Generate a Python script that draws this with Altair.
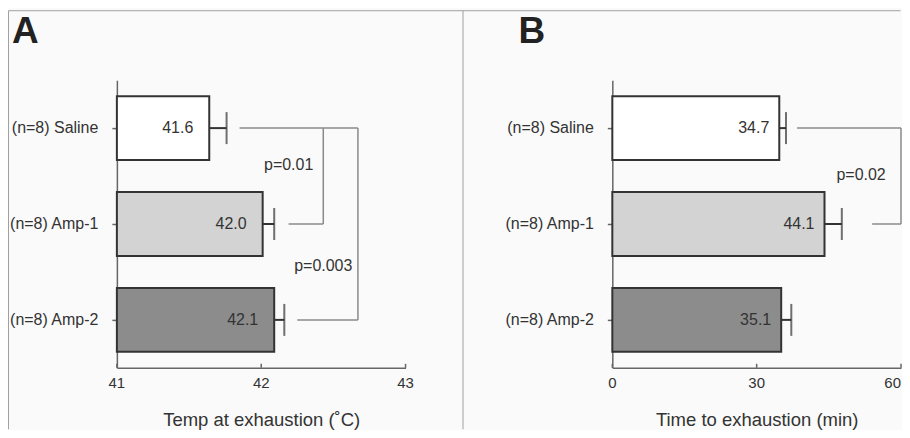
import altair as alt
import pandas as pd

FONT = "Liberation Sans"
TXT = "#333333"
AX = "#666666"
BR = "#8a8a8a"

groups = ["(n=8) Saline", "(n=8) Amp-1", "(n=8) Amp-2"]
fills = ["#ffffff", "#d3d3d3", "#8c8c8c"]

# Panel A: temperature at exhaustion (deg C)
temp_mean = [41.64, 42.01, 42.09]
temp_err = [41.76, 42.09, 42.16]
ticks_a = [41, 42, 43]
dom_a = [41, 43]

# Panel B: time to exhaustion (min)
time_mean = [34.7, 44.1, 35.1]
time_err = [36.1, 47.7, 37.2]
ticks_b = [0, 30, 60]
dom_b = [0, 60]

# significance brackets (segments)
br_a_x = [41.85, 42.43, 42.19, 42.67, 42.25]
br_a_x2 = [42.67, 42.43, 42.43, 42.67, 42.67]
br_a_y = [groups[0], groups[0], groups[1], groups[0], groups[2]]
br_a_y2 = [groups[0], groups[1], groups[1], groups[2], groups[2]]

br_b_x = [38.4, 60.0, 54.0]
br_b_x2 = [60.0, 60.0, 60.0]
br_b_y = [groups[0], groups[0], groups[1]]
br_b_y2 = [groups[0], groups[1], groups[1]]

# p-value labels: text, x position, row, offset below row centre
p_a_text = ["p=0.01", "p=0.003"]
p_a_x = [42.19, 42.43]
p_a_row = [groups[0], groups[1]]
p_a_dy = [37, 42]

p_b_text = ["p=0.02"]
p_b_x = [51.7]
p_b_row = [groups[0]]
p_b_dy = [47]


def panel(means, errs, dom, ticks, title, bx, bx2, by, by2, ptext, px, prow, pdy,
          letter, letter_x, value_dx, flush_last, frame=False):
    df = pd.DataFrame({"group": groups, "mean": means, "err": errs})
    xs = alt.Scale(domain=dom, nice=False, zero=False)
    ys = alt.Scale(domain=groups, paddingInner=1 / 3, paddingOuter=1 / 6)
    yax = alt.Axis(title=None, labelLimit=300)
    xax = alt.Axis(values=ticks, title=title, labels=False, ticks=False)
    base = alt.Chart(df)
    yN = alt.Y("group:N", scale=ys, axis=yax, sort=groups)
    bars = base.mark_bar(stroke="#333333", strokeWidth=2).encode(
        y=yN,
        x=alt.X("mean:Q", scale=xs, axis=xax),
        x2=alt.datum(dom[0]),
        fill=alt.Fill("group:N", scale=alt.Scale(domain=groups, range=fills), legend=None),
    )
    errline = base.mark_rule(color="#333333", strokeWidth=2).encode(
        y=yN, x=alt.X("mean:Q", scale=xs, axis=xax), x2="err:Q")
    cap = base.mark_tick(color="#333333", thickness=2, size=32).encode(
        y=yN, x=alt.X("err:Q", scale=xs, axis=xax))
    vals = base.mark_text(align="right", baseline="middle", dx=value_dx,
                          fontSize=16, color=TXT, font=FONT).encode(
        y=yN, x=alt.X("mean:Q", scale=xs, axis=xax),
        text=alt.Text("mean:Q", format=".1f"))
    tick_df = pd.DataFrame({"t": ticks})
    inticks = alt.Chart(tick_df).mark_rule(color=AX, strokeWidth=1.5).encode(
        x=alt.X("t:Q", scale=xs, axis=xax), y=alt.value(288), y2=alt.value(284))
    # tick labels drawn through the x scale
    if flush_last:
        lab_c = alt.Chart(pd.DataFrame({"t": ticks[:-1]}))
        lab_r = alt.Chart(pd.DataFrame({"t": ticks[-1:]}))
    else:
        lab_c = alt.Chart(tick_df)
        lab_r = None
    ticklabs = [lab_c.mark_text(align="center", baseline="alphabetic", fontSize=15,
                                color=TXT, font=FONT).encode(
        x=alt.X("t:Q", scale=xs, axis=xax), y=alt.value(308.5),
        text=alt.Text("t:Q", format="d"))]
    if lab_r is not None:
        ticklabs.append(lab_r.mark_text(align="right", baseline="alphabetic",
                                        fontSize=15, color=TXT, font=FONT).encode(
            x=alt.X("t:Q", scale=xs, axis=xax), y=alt.value(308.5),
            text=alt.Text("t:Q", format="d")))
    br_df = pd.DataFrame({"x": bx, "x2": bx2, "y": by, "y2": by2})
    brackets = alt.Chart(br_df).mark_rule(color=BR, strokeWidth=1.5).encode(
        x=alt.X("x:Q", scale=xs, axis=xax), x2="x2:Q",
        y=alt.Y("y:N", scale=ys, axis=yax, sort=groups), y2="y2:N")
    layers = [bars, errline, cap, vals, inticks, brackets] + ticklabs
    for t, x, r, d in zip(ptext, px, prow, pdy):
        pdf = pd.DataFrame({"label": [t], "x": [x], "group": [r]})
        layers.append(alt.Chart(pdf).mark_text(
            align="center", baseline="middle", dy=d, fontSize=16,
            color=TXT, font=FONT).encode(
            x=alt.X("x:Q", scale=xs, axis=xax), y=yN, text="label:N"))
    ldf = pd.DataFrame({"t": [letter]})
    layers.append(alt.Chart(ldf).mark_text(
        align="left", baseline="alphabetic", fontSize=37, fontWeight="bold",
        color="#222222", font=FONT).encode(
        x=alt.value(letter_x), y=alt.value(-37), text="t:N"))
    if frame:
        fdf = pd.DataFrame({"k": [0]})
        fc = "#a0a0a0"
        layers.append(alt.Chart(fdf).mark_rule(color=fc, strokeWidth=1).encode(
            x=alt.value(-108.5), x2=alt.value(784.5), y=alt.value(-69.5)))
        layers.append(alt.Chart(fdf).mark_rule(color=fc, strokeWidth=1).encode(
            x=alt.value(-108.5), y=alt.value(-69.5), y2=alt.value(349.5)))
        layers.append(alt.Chart(fdf).mark_rule(color=fc, strokeWidth=1).encode(
            x=alt.value(346.5), y=alt.value(-69.5), y2=alt.value(349.5)))
    return alt.layer(*layers).properties(width=289, height=288)


pa = panel(temp_mean, temp_err, dom_a, ticks_a, "Temp at exhaustion (\u02daC)",
           br_a_x, br_a_x2, br_a_y, br_a_y2, p_a_text, p_a_x, p_a_row, p_a_dy,
           "A", -105, -16, False, frame=True)
pb = panel(time_mean, time_err, dom_b, ticks_b, "Time to exhaustion (min)",
           br_b_x, br_b_x2, br_b_y, br_b_y2, p_b_text, p_b_x, p_b_row, p_b_dy,
           "B", -94, -10, True)

chart = alt.hconcat(pa, pb, spacing=207, bounds="flush").properties(
    padding={"left": 0, "top": 2, "right": 0, "bottom": 0},
    background="#fafafa",
).configure_view(stroke=None).configure_axis(
    labelFont=FONT, titleFont=FONT, labelColor=TXT, titleColor=TXT,
    domainColor=AX, domainWidth=1.5, tickColor=AX, tickWidth=1.5, grid=False,
).configure_axisY(
    labelFontSize=16, labelPadding=14, tickSize=5,
).configure_axisX(
    titleFontSize=18.5, titleFontWeight="normal", titleY=58,
    titleBaseline="alphabetic",
).configure_text(font=FONT)

chart.save("out.html", embed_options={"renderer": "svg", "actions": False})
